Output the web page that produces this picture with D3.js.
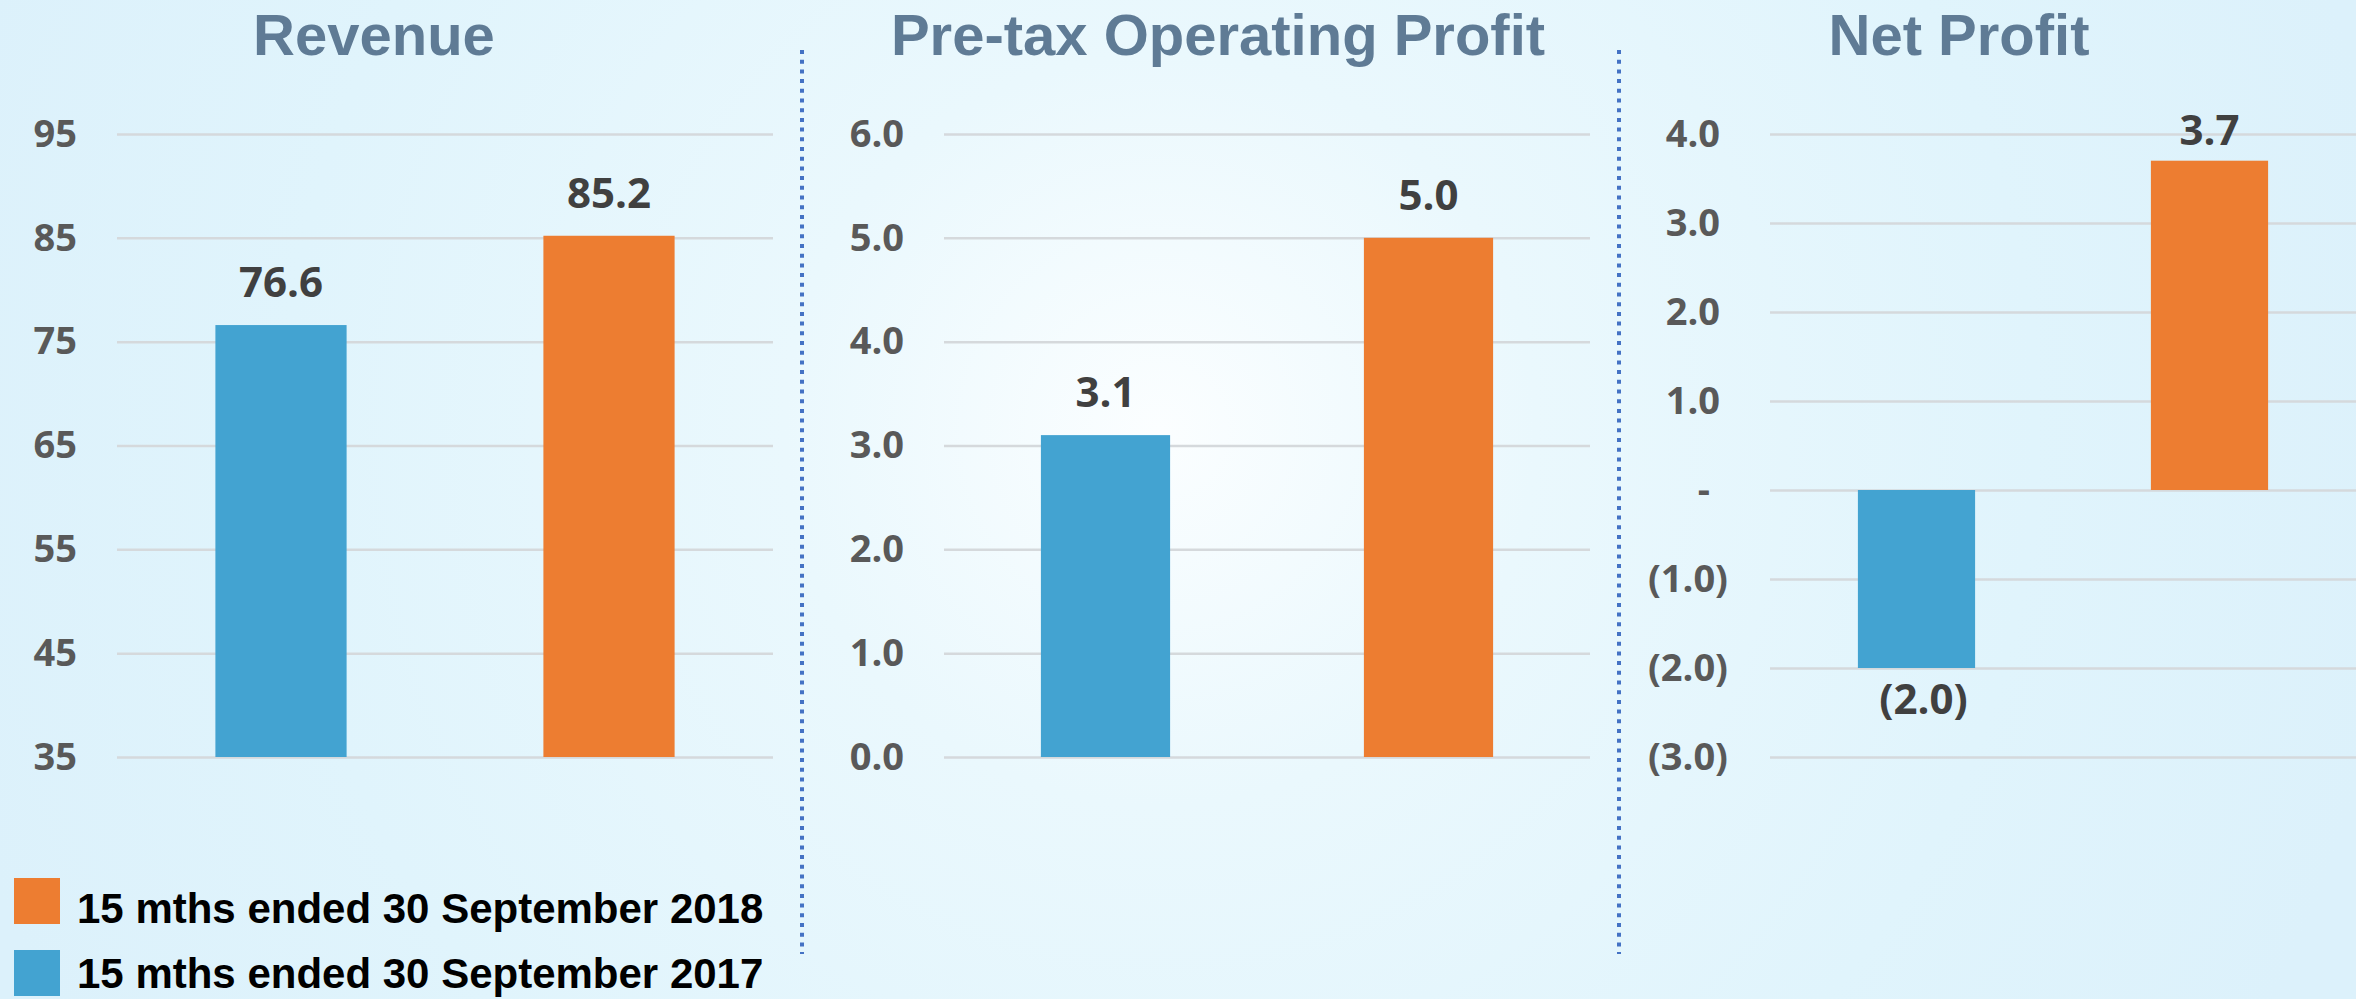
<!DOCTYPE html>
<html>
<head>
<meta charset="utf-8">
<script src="https://cdn.jsdelivr.net/npm/d3@7"></script>
<style>
  html, body { margin: 0; padding: 0; overflow: hidden; }
  svg { display: block; }
</style>
</head>
<body>
<div id="chart"></div>
<script>
// Financial highlights - three small bar charts

// Data
var categories = ['15 mths ended 30 September 2017', '15 mths ended 30 September 2018'];
var legendOrder = ['15 mths ended 30 September 2018', '15 mths ended 30 September 2017'];
var titles = ['Revenue', 'Pre-tax Operating Profit', 'Net Profit'];
var revenue = [76.6, 85.2];
var pretaxProfit = [3.1, 5.0];
var netProfit = [-2.0, 3.7];
var revenueTicks = [35, 45, 55, 65, 75, 85, 95];
var pretaxTicks = [0, 1, 2, 3, 4, 5, 6];
var netTicks = [-3, -2, -1, 0, 1, 2, 3, 4];

var width = 2356;
var height = 999;

var colors = d3.scaleOrdinal()
    .domain(categories)
    .range(['#43a3d1', '#ed7d31']);

var svg = d3.select('#chart').append('svg')
    .attr('width', width)
    .attr('height', height);

// Background
var defs = svg.append('defs');
var bg = defs.append('radialGradient')
    .attr('id', 'bg')
    .attr('gradientUnits', 'userSpaceOnUse')
    .attr('cx', 1160).attr('cy', 430).attr('r', 1250);
bg.append('stop').attr('offset', '0').attr('stop-color', '#fbfeff');
bg.append('stop').attr('offset', '0.3').attr('stop-color', '#eaf8fd');
bg.append('stop').attr('offset', '0.7').attr('stop-color', '#e0f4fc');
bg.append('stop').attr('offset', '1').attr('stop-color', '#dcf1fb');

svg.append('rect')
    .attr('width', width)
    .attr('height', height)
    .attr('fill', 'url(#bg)');

var fmtOne = function(d) { return d.toFixed(1); };
var fmtNet = function(d) {
    if (d === 0) return '-';
    if (d < 0) return '(' + Math.abs(d).toFixed(1) + ')';
    return d.toFixed(1);
};

var panels = [
    { title: titles[0], values: revenue, ticks: revenueTicks, domain: [35, 95], x0: 117, x1: 773, titleX: 374, fmt: d3.format('d'), labelFmt: fmtOne, pad: 40, labelTop: 60 },
    { title: titles[1], values: pretaxProfit, ticks: pretaxTicks, domain: [0, 6], x0: 944, x1: 1590, titleX: 1218, fmt: fmtOne, labelFmt: fmtOne, pad: 40, labelTop: 60 },
    { title: titles[2], values: netProfit, ticks: netTicks, domain: [-3, 4], x0: 1770, x1: 2356, titleX: 1959, fmt: fmtNet, labelFmt: fmtNet, pad: 42, labelTop: 115 }
];

var plotTop = 134;
var plotBottom = 757;

panels.forEach(function(p) {
    var g = svg.append('g');

    var yScale = d3.scaleLinear()
        .domain(p.domain)
        .range([plotBottom, plotTop]);

    var xScale = d3.scaleBand()
        .domain(categories)
        .range([p.x0, p.x1])
        .paddingInner(0.6)
        .paddingOuter(0.3);

    // Gridlines
    var grid = g.append('g')
        .attr('transform', 'translate(' + p.x0 + ',0)')
        .call(d3.axisLeft(yScale).tickValues(p.ticks).tickSize(-(p.x1 - p.x0)).tickFormat(''));
    grid.select('.domain').remove();
    grid.selectAll('line')
        .attr('stroke', '#d5d9dc')
        .attr('stroke-width', 2.5);

    // Y-Axis labels
    var yAxis = g.append('g')
        .attr('transform', 'translate(' + p.x0 + ',0)')
        .call(d3.axisLeft(yScale).tickValues(p.ticks).tickSize(0).tickPadding(p.pad).tickFormat(p.fmt));
    yAxis.select('.domain').remove();
    yAxis.selectAll('text')
        .attr('fill', '#595959')
        .style('font-family', '"Open Sans", sans-serif')
        .style('font-weight', 'bold')
        .style('font-size', '38px')
        .attr('dx', function(d) {
            if (p.fmt !== fmtNet) return 0;
            if (d === 0) return -18;
            return d > 0 ? -8 : 0;
        });

    // Bars
    var base = Math.max(p.domain[0], 0);
    g.selectAll('rect.bar')
        .data(p.values)
        .enter().append('rect')
            .attr('class', 'bar')
            .attr('x', function(d, i) { return xScale(categories[i]); })
            .attr('width', xScale.bandwidth())
            .attr('y', function(d) { return yScale(Math.max(d, base)); })
            .attr('height', function(d) { return Math.abs(yScale(d) - yScale(base)); })
            .style('fill', function(d, i) { return colors(categories[i]); });

    // Value labels
    g.selectAll('text.value')
        .data(p.values)
        .enter().append('text')
            .attr('class', 'value')
            .attr('x', function(d, i) { return xScale(categories[i]) + xScale.bandwidth() / 2; })
            .attr('dx', function(d) { return d < 0 ? 7 : 0; })
            .attr('y', function(d) {
                if (d < 0) return yScale(d) + 46;
                return Math.max(yScale(d) - 28, p.labelTop + 30);
            })
            .attr('text-anchor', 'middle')
            .attr('fill', '#404040')
            .style('font-family', '"Open Sans", sans-serif')
            .style('font-weight', 'bold')
            .style('font-size', '42px')
            .text(function(d) { return p.labelFmt(d); });

    // Title
    g.append('text')
        .attr('x', p.titleX)
        .attr('y', 55)
        .attr('text-anchor', 'middle')
        .attr('fill', '#5f7b95')
        .style('font-family', '"Liberation Sans", Arial, sans-serif')
        .style('font-weight', 'bold')
        .style('font-size', '58px')
        .text(p.title);
});

// Dotted dividers
svg.selectAll('line.divider')
    .data([802, 1619])
    .enter().append('line')
        .attr('class', 'divider')
        .attr('x1', function(d) { return d; })
        .attr('x2', function(d) { return d; })
        .attr('y1', 50)
        .attr('y2', 954)
        .attr('stroke', '#4472c4')
        .attr('stroke-width', 4)
        .attr('stroke-dasharray', '4,5.7');

// Legend
var legend = svg.selectAll('g.legend')
    .data(legendOrder)
    .enter().append('g')
        .attr('class', 'legend')
        .attr('transform', function(d, i) { return 'translate(14,' + (878 + i * 72) + ')'; });

legend.append('rect')
    .attr('width', 46)
    .attr('height', 46)
    .style('fill', function(d) { return colors(d); });

legend.append('text')
    .attr('x', 63)
    .attr('y', function(d, i) { return i === 0 ? 45 : 38; })
    .attr('fill', '#000')
    .style('font-family', '"Liberation Sans", Arial, sans-serif')
    .style('font-weight', 'bold')
    .style('font-size', '42px')
    .text(function(d) { return d; });
</script>
</body>
</html>
